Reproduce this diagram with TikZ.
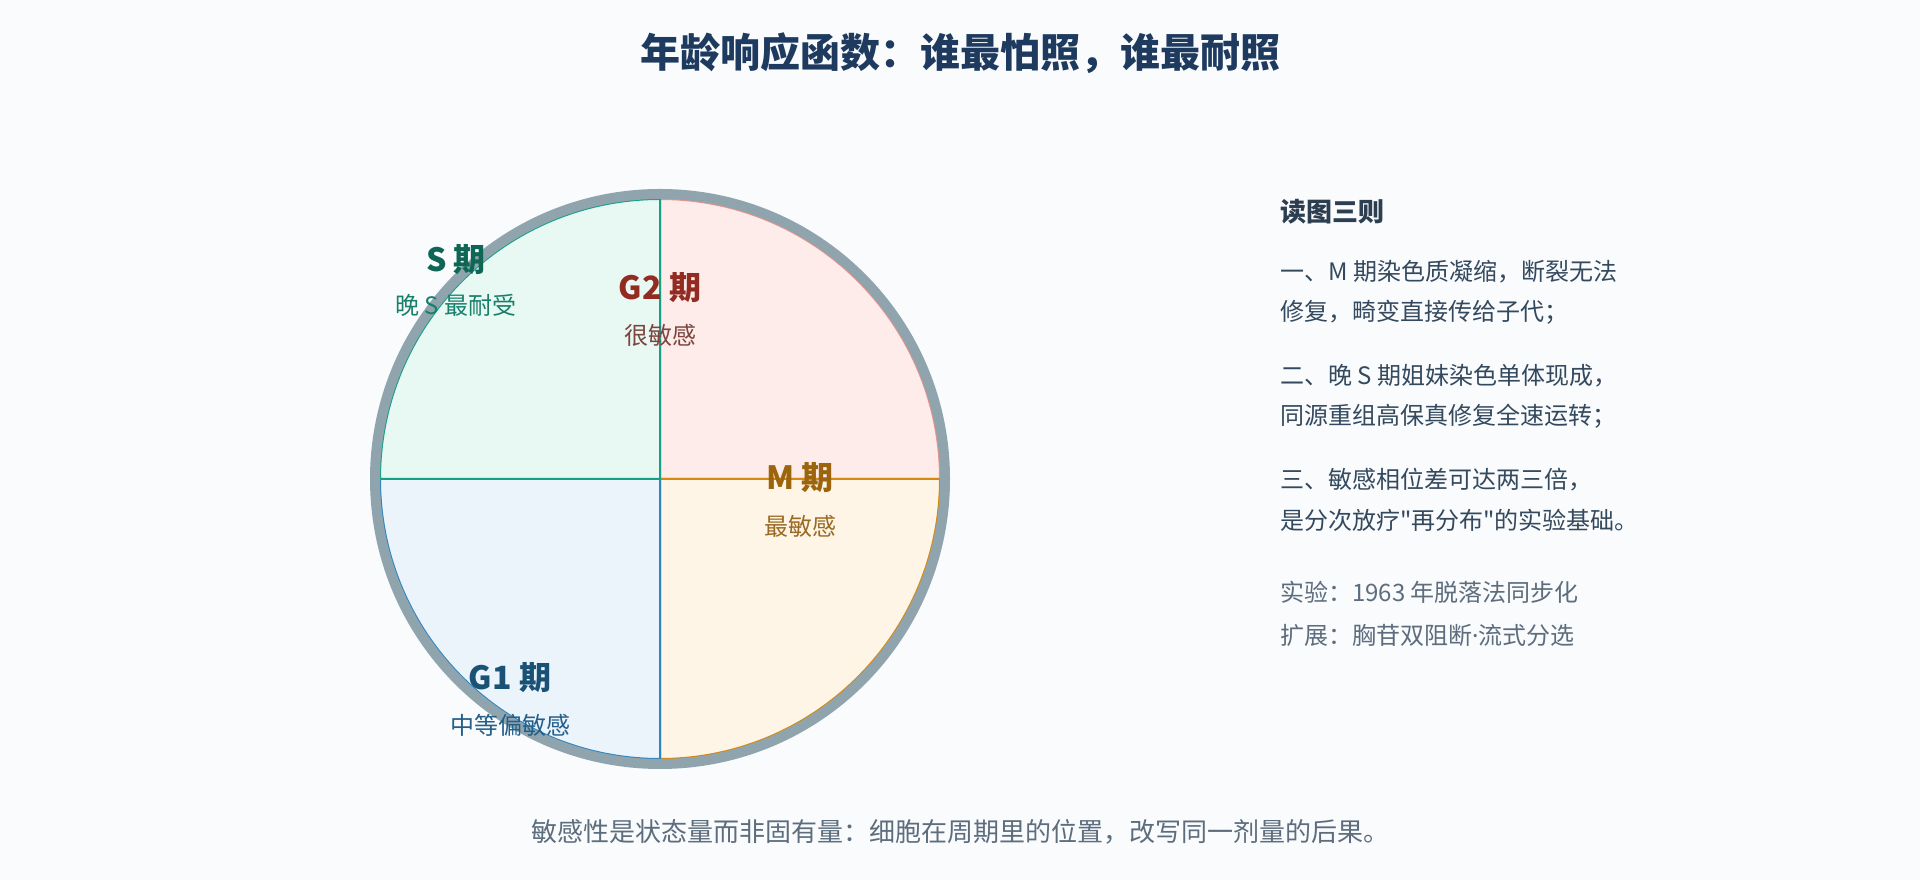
\documentclass[tikz,border=0pt]{standalone}
\usepackage{fontspec}
\setmainfont{Noto Sans CJK SC}[Ligatures=TeXOff]
\newfontfamily\latinfont{Noto Sans}
\definecolor{pagebg}{HTML}{F9FBFD}
\definecolor{titleblue}{HTML}{1E3A5F}
\definecolor{headgray}{HTML}{2C3E50}
\definecolor{ringgray}{HTML}{90A4AE}
\definecolor{sfill}{HTML}{E8F8F3}
\definecolor{sline}{HTML}{16A085}
\definecolor{g2fill}{HTML}{FDECEA}
\definecolor{g2line}{HTML}{E6968C}
\definecolor{mfill}{HTML}{FEF5E6}
\definecolor{mline}{HTML}{D68910}
\definecolor{gonefill}{HTML}{EBF3FB}
\definecolor{goneline}{HTML}{2E86C1}
\definecolor{stext}{HTML}{0E6655}
\definecolor{ssub}{HTML}{17806B}
\definecolor{gtwotext}{HTML}{922B21}
\definecolor{gtwosub}{HTML}{7E4540}
\definecolor{mtext}{HTML}{9C640C}
\definecolor{msub}{HTML}{9A6A22}
\definecolor{gonetext}{HTML}{1A5276}
\definecolor{gonesub}{HTML}{245F8A}
\definecolor{ruletext}{HTML}{34495E}
\definecolor{notegray}{HTML}{5D6D7E}
\begin{document}
\begin{tikzpicture}[x=1pt,y=1pt,
    phase/.style={font=\bfseries\fontsize{32}{38}\selectfont, inner sep=0pt},
    sub/.style={font=\fontsize{24}{29}\selectfont, inner sep=0pt},
    rule/.style={font=\fontsize{24}{29}\selectfont, inner sep=0pt, anchor=west, text=ruletext},
    extra/.style={rule, text=notegray}]
    \fill[pagebg] (0,0) rectangle (1920,880);
    \useasboundingbox (0,0) rectangle (1920,880);

    \node[font=\bfseries\fontsize{40}{48}\selectfont, text=titleblue, inner sep=0pt] (title) at (960,827) {年龄响应函数：谁最怕照，谁最耐照};

    \path (660,401) coordinate (C);
    \foreach \a/\f/\l in {0/g2fill/g2line, 270/mfill/mline, 180/gonefill/goneline, 90/sfill/sline}
        \filldraw[fill=\f, draw=\l, line width=2] (C) -- ++(\a:280) arc[start angle=\a, delta angle=90, radius=280] -- cycle;
    \draw[ringgray, line width=10] (C) circle[radius=285];

    \node[phase, text=stext] (sname) at (456,620) {S 期};
    \node[sub, text=ssub] (snote) at (456,575) {晚 S 最耐受};
    \node[phase, text=gtwotext] (gtwoname) at (660,592) {G2 期};
    \node[sub, text=gtwosub] (gtwonote) at (660,545) {很敏感};
    \node[phase, text=mtext] (mname) at (800,402) {M 期};
    \node[sub, text=msub] (mnote) at (800,354) {最敏感};
    \node[phase, text=gonetext] (gonename) at (510,202) {G1 期};
    \node[sub, text=gonesub] (gonenote) at (510,155) {中等偏敏感};

    \node[rule, font=\bfseries\fontsize{26}{31}\selectfont, text=headgray] (head) at (1280,668) {读图三则};
    \node[rule] (ruleA) at (1280,608) {一、M 期染色质凝缩，断裂无法};
    \node[rule] (ruleB) at (1280,568) {修复，畸变直接传给子代；};
    \node[rule] (ruleC) at (1280,504) {二、晚 S 期姐妹染色单体现成，};
    \node[rule] (ruleD) at (1280,464) {同源重组高保真修复全速运转；};
    \node[rule] (ruleE) at (1280,400) {三、敏感相位差可达两三倍，};
    \node[rule] (ruleF) at (1280,360) {是分次放疗"再分布"的实验基础。};
    \node[extra] (exp) at (1280,288) {实验：1963 年脱落法同步化};
    \node[extra] (ext) at (1280,245) {扩展：胸苷双阻断{\latinfont ·}流式分选};

    \node[sub, font=\fontsize{26}{31}\selectfont, text=notegray] (caption) at (960,48) {敏感性是状态量而非固有量：细胞在周期里的位置，改写同一剂量的后果。};
\end{tikzpicture}
\end{document}
